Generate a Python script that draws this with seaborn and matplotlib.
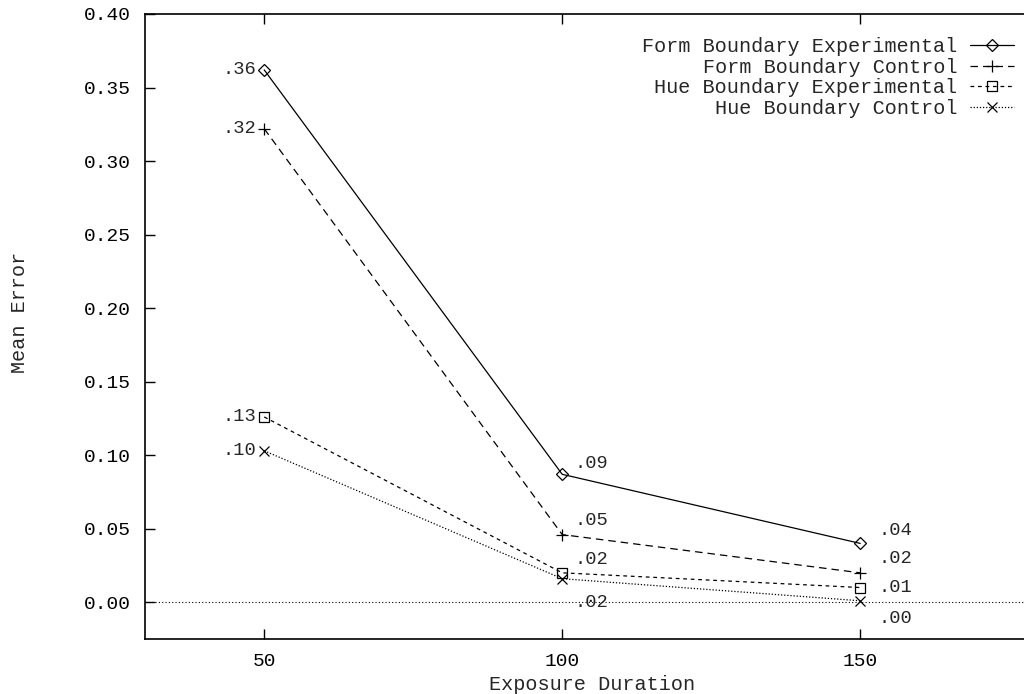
import seaborn as sns
import matplotlib.pyplot as plt

sns.set_style("ticks")
plt.rcParams['font.family'] = ['Liberation Mono', 'DejaVu Sans']

# data
durations = [50, 100, 150]
series_names = ["Form Boundary Experimental", "Form Boundary Control",
                "Hue Boundary Experimental", "Hue Boundary Control"]
form_exp = [0.362, 0.087, 0.040]
form_ctrl = [0.322, 0.046, 0.020]
hue_exp = [0.126, 0.020, 0.010]
hue_ctrl = [0.103, 0.016, 0.001]
values = [form_exp, form_ctrl, hue_exp, hue_ctrl]

# styles (marker, dashes) and label offsets in pixels
markers = ["D", "+", "s", "x"]
dashes = [None, (6, 4), (3, 3), (1, 1.5)]
msizes = [6.5, 9, 7, 7]
offsets = [[(-8, 0), (12, 11), (18, 13)],
           [(-8, 0), (12, 14), (18, 14)],
           [(-8, 0), (12, 13), (18, 0)],
           [(-8, 0), (12, -24), (18, -18)]]

fig = plt.figure(figsize=(10.24, 6.94), dpi=100)
ax = fig.add_axes([145 / 1024, 55 / 694, 894 / 1024, 625 / 694])

ax.axhline(0, color="black", lw=0.8, ls=(0, (1, 2)))

for name, vals, m, d, ms, offs in zip(series_names, values, markers, dashes, msizes, offsets):
    sns.lineplot(x=durations, y=vals, ax=ax, color="black", lw=0.9,
                 marker=m, markersize=ms, markerfacecolor="none",
                 markeredgecolor="black", markeredgewidth=0.9, label=name)
    ln = ax.get_lines()[-1]
    if d is not None:
        ln.set_dashes(d)
    for x, v, (dx, dy) in zip(durations, vals, offs):
        txt = ("%.2f" % v).lstrip("0")
        ax.annotate(txt, (x, v), xytext=(dx, dy), textcoords="offset pixels",
                    ha="right" if dx < 0 else "left", va="center", fontsize=13.5)

ax.set_xlim(30, 180)
ax.set_ylim(-0.025, 0.40)
ax.set_xticks([50, 100, 150])
ax.set_yticks([0, 0.05, 0.10, 0.15, 0.20, 0.25, 0.30, 0.35, 0.40])
ax.set_yticklabels(["%.2f" % t for t in ax.get_yticks()], fontsize=14)
ax.set_xticklabels(["50", "100", "150"], fontsize=14)
ax.tick_params(direction="in", length=7, width=1, top=True, right=False, colors="black")
ax.tick_params(axis="y", pad=10)
ax.tick_params(axis="x", pad=10)
for s in ax.spines.values():
    s.set_color("black")
    s.set_linewidth(1.2)

ax.set_xlabel("Exposure Duration", fontsize=14.5, labelpad=4)
ax.set_ylabel("Mean Error", fontsize=14.5)
ax.yaxis.set_label_coords((29 - 145) / 894, 0.523)

leg = ax.legend(loc="upper right", bbox_to_anchor=((1022 - 145) / 894, 0.976), frameon=False,
                markerfirst=False, fontsize=14.5, handlelength=2.2,
                labelspacing=0.08, handletextpad=0.6, borderaxespad=0)

fig.savefig("out.png", dpi=100)
